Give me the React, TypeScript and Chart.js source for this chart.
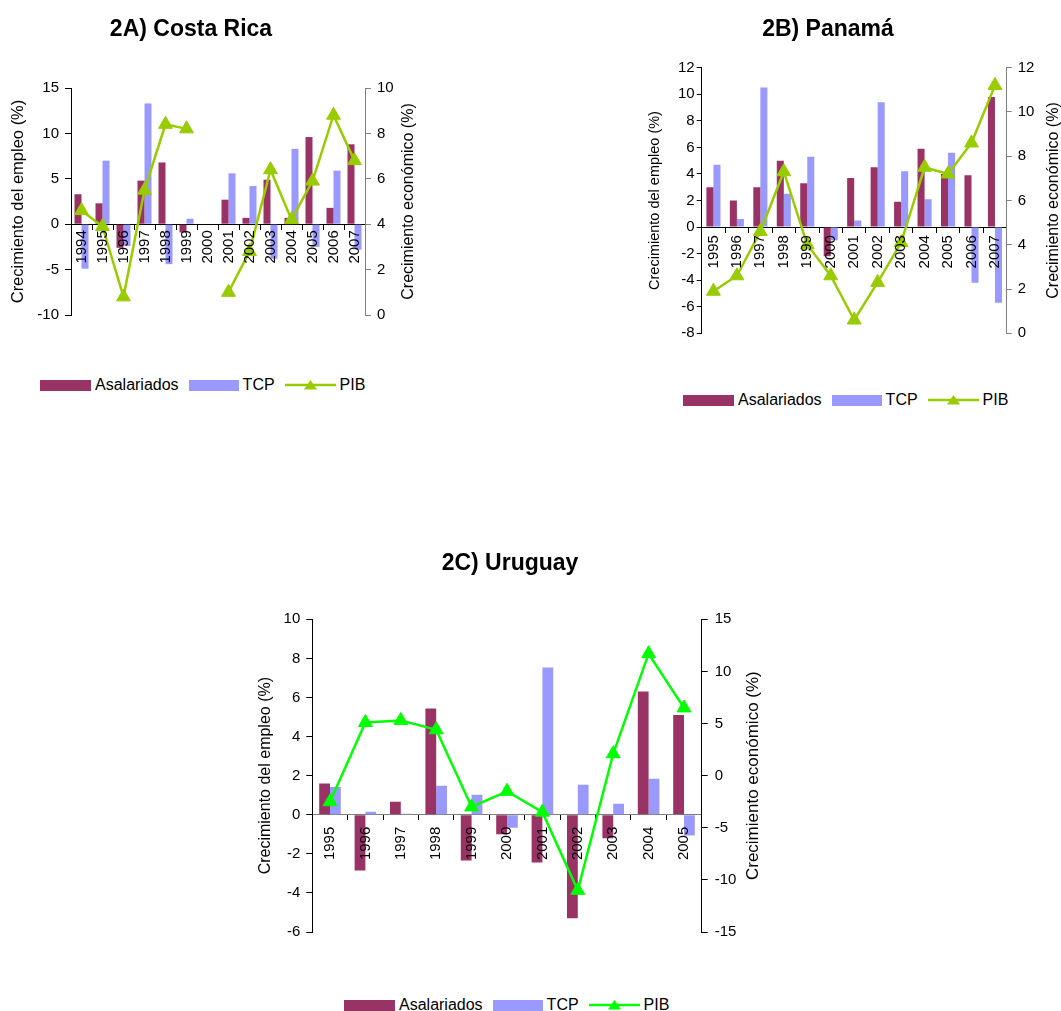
import React, { useEffect, useRef } from "react";
import { Chart, registerables } from "chart.js";

Chart.register(...registerables);
Chart.defaults.font.family = '"Liberation Sans", Arial, sans-serif';
Chart.defaults.color = "#000";

const PURPLE = "#993366";
const BLUE = "#9999FF";
const FONT = '"Liberation Sans", Arial, sans-serif';

// ---------- 2A) Costa Rica ----------
const crYears = ["1994", "1995", "1996", "1997", "1998", "1999", "2000", "2001", "2002", "2003", "2004", "2005", "2006", "2007"];
const crAsalariados = [3.3, 2.3, -2.6, 4.8, 6.8, -0.9, null, 2.7, 0.7, 4.9, 0.7, 9.6, 1.8, 8.8];
const crTCP = [-4.9, 7.0, -2.4, 13.3, -4.4, 0.6, null, 5.6, 4.2, -3.8, 8.3, -2.5, 5.9, -2.8];
const crPIB = [4.6, 3.9, 0.8, 5.5, 8.4, 8.2, null, 1.0, 2.8, 6.4, 4.2, 5.9, 8.8, 6.8];

// ---------- 2B) Panamá ----------
const paYears = ["1995", "1996", "1997", "1998", "1999", "2000", "2001", "2002", "2003", "2004", "2005", "2006", "2007"];
const paAsalariados = [3.0, 2.0, 3.0, 5.0, 3.3, -2.2, 3.7, 4.5, 1.9, 5.9, 4.0, 3.9, 9.8];
const paTCP = [4.7, 0.6, 10.5, 2.5, 5.3, -1.0, 0.5, 9.4, 4.2, 2.1, 5.6, -4.2, -5.7];
const paPIB = [1.9, 2.6, 4.6, 7.3, 4.0, 2.6, 0.6, 2.3, 4.1, 7.5, 7.2, 8.6, 11.2];

// ---------- 2C) Uruguay ----------
const urYears = ["1995", "1996", "1997", "1998", "1999", "2000", "2001", "2002", "2003", "2004", "2005"];
const urAsalariados = [1.6, -2.85, 0.67, 5.43, -2.34, -1.0, -2.44, -5.3, -1.2, 6.3, 5.1];
const urTCP = [1.42, 0.15, 0.05, 1.48, 1.02, -0.67, 7.53, 1.54, 0.56, 1.84, -1.06];
const urPIB = [-2.5, 5.1, 5.3, 4.4, -3.0, -1.5, -3.5, -11.0, 2.1, 11.7, 6.5];

const LEFT_TITLE = "Crecimiento del empleo (%)";
const RIGHT_TITLE = "Crecimiento económico (%)";

type Spec = {
  labels: string[];
  asal: (number | null)[];
  tcp: (number | null)[];
  pib: (number | null)[];
  yMin: number; yMax: number; yStep: number;
  y1Min: number; y1Max: number; y1Step: number;
  lineColor: string;
  catPct: number;
  box: { left: number; top: number; width: number; height: number };
  padTop: number; padBottom: number; leftW: number; rightW: number;
  leftTitleSize: number; leftTitlePad: number;
  rightTitleSize: number; rightTitleDx: number;
  tickSize: number;
  leftTickLen: number; leftTickPad: number;
  rightTickLen: number; rightTickPad: number;
  xTickPad: number;
  rightAxisColor: string; zeroColor: string;
};

const rightTitlePlugin = {
  id: "rightTitle",
  afterDraw(chart: any, _args: any, opts: any) {
    if (!opts || !opts.text) return;
    const s = chart.scales.y1;
    const ctx = chart.ctx;
    ctx.save();
    ctx.translate(s.left + opts.dx, (chart.chartArea.top + chart.chartArea.bottom) / 2);
    ctx.rotate(-Math.PI / 2);
    ctx.font = `${opts.size}px ${FONT}`;
    ctx.fillStyle = "#000";
    ctx.textAlign = "center";
    ctx.textBaseline = "middle";
    ctx.fillText(opts.text, 0, 0);
    ctx.restore();
  },
};

function buildConfig(s: Spec): any {
  return {
    type: "bar",
    data: {
      labels: s.labels,
      datasets: [
        {
          type: "bar", label: "Asalariados", data: s.asal, backgroundColor: PURPLE,
          yAxisID: "y", order: 1, categoryPercentage: s.catPct, barPercentage: 1,
        },
        {
          type: "bar", label: "TCP", data: s.tcp, backgroundColor: BLUE,
          yAxisID: "y", order: 1, categoryPercentage: s.catPct, barPercentage: 1,
        },
        {
          type: "line", label: "PIB", data: s.pib, borderColor: s.lineColor, backgroundColor: s.lineColor,
          borderWidth: 2.5, pointStyle: "triangle", pointRadius: 8, pointBorderWidth: 1,
          pointBackgroundColor: s.lineColor, pointBorderColor: s.lineColor,
          yAxisID: "y1", order: 0, spanGaps: false, tension: 0,
        },
      ],
    },
    options: {
      responsive: false,
      animation: false,
      devicePixelRatio: 1,
      layout: { padding: { top: s.padTop, bottom: s.padBottom, left: 0, right: 0 } },
      plugins: {
        legend: { display: false },
        tooltip: { enabled: false },
        title: { display: false },
        rightTitle: { text: RIGHT_TITLE, size: s.rightTitleSize, dx: s.rightTitleDx },
      },
      scales: {
        x: {
          position: { y: 0 },
          offset: true,
          grid: { display: true, drawOnChartArea: false, drawTicks: true, tickLength: 5, color: "#000", offset: true },
          border: { display: true, color: s.zeroColor },
          ticks: {
            autoSkip: false, minRotation: 90, maxRotation: 90, padding: s.xTickPad,
            font: { size: s.tickSize }, color: "#000", z: 1,
          },
        },
        y: {
          position: "left",
          min: s.yMin, max: s.yMax,
          afterFit: (sc: any) => { sc.width = s.leftW; },
          ticks: { stepSize: s.yStep, padding: s.leftTickPad, font: { size: s.tickSize }, color: "#000" },
          grid: { drawOnChartArea: false, drawTicks: true, tickLength: s.leftTickLen, color: "#000" },
          border: { display: true, color: "#000" },
          title: {
            display: true, text: LEFT_TITLE, font: { size: s.leftTitleSize }, color: "#000",
            padding: { top: s.leftTitlePad, bottom: 0 },
          },
        },
        y1: {
          position: "right",
          min: s.y1Min, max: s.y1Max,
          afterFit: (sc: any) => { sc.width = s.rightW; },
          ticks: { stepSize: s.y1Step, padding: s.rightTickPad, font: { size: s.tickSize }, color: "#000" },
          grid: { drawOnChartArea: false, drawTicks: true, tickLength: s.rightTickLen, color: s.rightAxisColor },
          border: { display: true, color: s.rightAxisColor },
        },
      },
    },
    plugins: [rightTitlePlugin],
  };
}

function ChartPanel({ spec }: { spec: Spec }) {
  const ref = useRef<HTMLCanvasElement>(null);
  useEffect(() => {
    const chart = new Chart(ref.current as HTMLCanvasElement, buildConfig(spec));
    return () => chart.destroy();
  }, []);
  const b = spec.box;
  return (
    <canvas
      ref={ref}
      width={b.width}
      height={b.height}
      style={{ position: "absolute", left: b.left, top: b.top, width: b.width, height: b.height }}
    />
  );
}

function Title({ text, cx, cy }: { text: string; cx: number; cy: number }) {
  return (
    <div
      style={{
        position: "absolute", left: cx, top: cy - 13, transform: "translateX(-50%)",
        font: `bold 23px ${FONT}`, lineHeight: "26px", whiteSpace: "nowrap", color: "#000",
      }}
    >
      {text}
    </div>
  );
}

function Legend({ left, cy, lineColor }: { left: number; cy: number; lineColor: string }) {
  return (
    <div
      style={{
        position: "absolute", left, top: cy - 10, height: 20, display: "flex", alignItems: "center",
        font: `16px ${FONT}`, color: "#000", whiteSpace: "nowrap",
      }}
    >
      <span style={{ display: "inline-block", width: 51, height: 11, background: PURPLE, marginRight: 4 }} />
      <span style={{ marginRight: 10 }}>Asalariados</span>
      <span style={{ display: "inline-block", width: 50, height: 11, background: BLUE, marginRight: 4 }} />
      <span style={{ marginRight: 10 }}>TCP</span>
      <svg width={51} height={16} style={{ marginRight: 4, display: "block" }}>
        <line x1={0} y1={8} x2={51} y2={8} stroke={lineColor} strokeWidth={2.5} />
        <polygon points="25.5,3 32,12.5 19,12.5" fill={lineColor} />
      </svg>
      <span>PIB</span>
    </div>
  );
}

const specA: Spec = {
  labels: crYears, asal: crAsalariados, tcp: crTCP, pib: crPIB,
  yMin: -10, yMax: 15, yStep: 5, y1Min: 0, y1Max: 10, y1Step: 2,
  lineColor: "#99CC00", catPct: 0.667,
  box: { left: 0, top: 0, width: 440, height: 340 },
  padTop: 88, padBottom: 25, leftW: 71, rightW: 75,
  leftTitleSize: 16.5, leftTitlePad: 9, rightTitleSize: 16, rightTitleDx: 44,
  tickSize: 15, leftTickLen: 6, leftTickPad: 6, rightTickLen: 6, rightTickPad: 6,
  xTickPad: 1, rightAxisColor: "#808080", zeroColor: "#000",
};

const specB: Spec = {
  labels: paYears, asal: paAsalariados, tcp: paTCP, pib: paPIB,
  yMin: -8, yMax: 12, yStep: 2, y1Min: 0, y1Max: 12, y1Step: 2,
  lineColor: "#99CC00", catPct: 0.6,
  box: { left: 640, top: 0, width: 421, height: 350 },
  padTop: 67.7, padBottom: 16.7, leftW: 61.7, rightW: 54.3,
  leftTitleSize: 14.5, leftTitlePad: 6.5, rightTitleSize: 16, rightTitleDx: 47,
  tickSize: 15, leftTickLen: 5, leftTickPad: 2, rightTickLen: 5, rightTickPad: 6,
  xTickPad: 3, rightAxisColor: "#808080", zeroColor: "#000",
};

const specC: Spec = {
  labels: urYears, asal: urAsalariados, tcp: urTCP, pib: urPIB,
  yMin: -6, yMax: 10, yStep: 2, y1Min: -15, y1Max: 15, y1Step: 5,
  lineColor: "#00FF00", catPct: 0.61,
  box: { left: 250, top: 540, width: 540, height: 420 },
  padTop: 79.3, padBottom: 28, leftW: 62.3, rightW: 88.3,
  leftTitleSize: 16, leftTitlePad: 5.5, rightTitleSize: 17, rightTitleDx: 52,
  tickSize: 15, leftTickLen: 6, leftTickPad: 6, rightTickLen: 6, rightTickPad: 7,
  xTickPad: 7, rightAxisColor: "#000", zeroColor: "#808080",
};

export default function App() {
  return (
    <div style={{ position: "absolute", left: 0, top: 0, width: 1061, height: 1011, background: "#fff", overflow: "hidden" }}>
      <ChartPanel spec={specA} />
      <ChartPanel spec={specB} />
      <ChartPanel spec={specC} />
      <Title text="2A) Costa Rica" cx={191} cy={28} />
      <Title text="2B) Panamá" cx={828} cy={28} />
      <Title text="2C) Uruguay" cx={510} cy={562} />
      <Legend left={40} cy={385} lineColor="#99CC00" />
      <Legend left={683} cy={400} lineColor="#99CC00" />
      <Legend left={344} cy={1005} lineColor="#00FF00" />
    </div>
  );
}
